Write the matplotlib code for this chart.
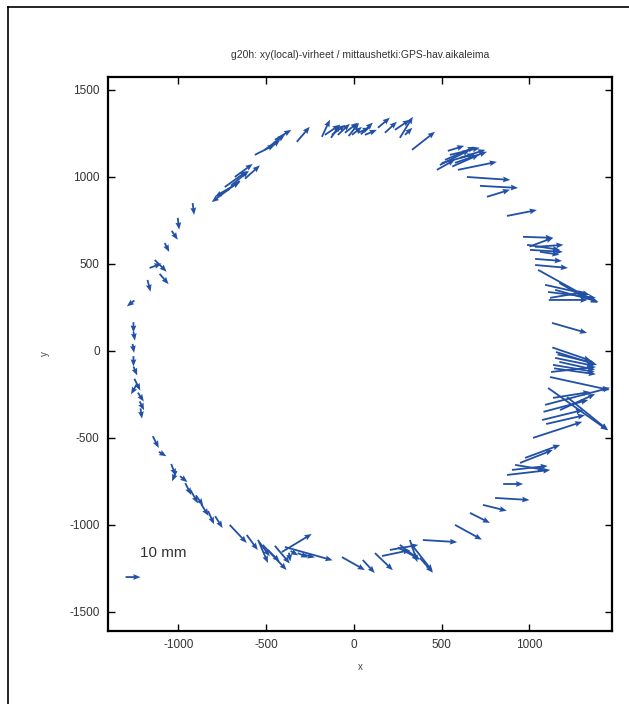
import matplotlib
matplotlib.use("Agg")
import matplotlib.pyplot as plt
from matplotlib.lines import Line2D
import numpy as np

plt.rcParams['font.family'] = ['Liberation Sans', 'DejaVu Sans']
plt.rcParams['axes.unicode_minus'] = False

# point positions (local xy) and xy errors in mm
px = [-1250, -1255, -1255, -1260, -1255, -1255, -1250, -1235, -1230, -1220, -1215,
      -1145, -1110, -1040, -1010, -990, -960, -930, -900, -870, -830, -790,
      -707, -610, -547, -519, -490, -410, -393, -360, -320, -290, -370,
      -68, 51, 120, 160, 205, 262, 319, 376, 393, 330,
      576, 661, 735, 804, 850,
      872, 900, 918, 946, 975,
      1020, 1072, 1089, 1106, 1117, 1134, 1174, 1214,
      1123, 1134, 1146, 1151, 1170,
      1128,
      1049, 1089, 1106, 1117, 1146, 1110, 1170,
      1032, 1032, 986, 1003, 1032, 1060, 963,
      872, 758, 718, 644, 593,
      490, 519, 547, 576, 535, 604, 473,
      331, 262, 234, 177, 137, 291,
      -182, -165, -125, -91, -51, -11, 23, 63,
      -325, -564, -507, -450, -479,
      -650, -707, -735, -678, -775,
      -918, -1003, -1037, -1077, -1134, -1163, -1106, -1175,
      1140, 1160, 1080, 1095, -130, -30, 40, 500, 560,
      -700, -620, -450, -540, 250, 1000, 1130]
py = [290, 165, 110, 40, -30, -90, -160, -190, -240, -290, -330,
      -490, -580, -650, -690, -720, -760, -800, -830, -880, -920, -950,
      -1000, -1058, -1087, -1115, -1144, -1156, -1127, -1150, -1162, -1170, -1160,
      -1185, -1202, -1162, -1179, -1144, -1115, -1087, -1190, -1087, -1115,
      -1000, -931, -885, -845, -765,
      -713, -684, -655, -644, -615,
      -500, -397, -310, -213, -150, -270, -340, -265,
      -121, -80, -40, -6, -63,
      161,
      466, 380, 339, 305, 351, 293, 391,
      494, 529, 610, 581, 598, 570, 656,
      776, 886, 949, 1000, 1041,
      1069, 1098, 1127, 1081, 1150, 1110, 1041,
      1156, 1225, 1271, 1254, 1283, 1242,
      1231, 1242, 1242, 1242, 1254, 1242, 1254, 1242,
      1202, 1127, 1156, 1213, 1167,
      977, 931, 942, 1000, 897,
      850, 765, 690, 620, 523, 477, 443, 408,
      -100, -20, -350, -420, 1225, 1235, 1245, 1080, 1060,
      950, 990, -1120, -1100, -1130, 600, 20]
dx = [-5, 0, 1, 1, 0, 2.5, 4, -4, 4, 3, 1,
      4, 5, 3, -3, 5, 4, 5, 5, 5, 4, 5,
      11.4, 7.4, 8, 16, 8, 20, 32, 5, 7, 8, 1,
      15.4, 8, 12, 19, 19, 13, 5, 8.7, 23, 14,
      18, 13.4, 16, 23, 13.4,
      29, 24, 20, 22, 23.5,
      33, 27.5, 43.5, 40, 40, 25, 23.5, 27.5,
      30, 28, 26, 27.5, 24,
      23.5,
      40, 30, 32, 23.5, 29, 26, 17,
      22, 18, 22, 22, 19, 13, 20,
      20, 15.4, 25.5, 29, 26,
      20, 20, 20, 21.4, 11, 17, 12,
      15.4, 8.7, 10, 8, 8, 5,
      5.4, 10, 9, 8, 8.7, 6.7, 8, 8,
      8.7, 13.4, 13.4, 11, 7,
      -18.8, -10, 15, 12, 15,
      1, 1, 4, 3, 8, 8, 6, 2,
      28, 25, 30, 26, 6, 7, 8, 22, 18,
      12, 10, 10, 6, 15, 16, 26]
dy = [-4, -7, -6, -6, -7, -6, -8, -7, -6, -6, -7,
      -8, -3, -8, -7, -4, -8, -9, -7, -8, -9, -8,
      -12.2, -10.2, -11, -17, -8, 12.2, -9, -3, -3, -2, -6,
      -8.8, -8.8, -11.6, 4, 3.4, -10, -15, -10, -1.4, -18,
      -10, -6.8, -4, -1.4, 0,
      3.4, 2.7, -3.4, 8.8, 8.8,
      10.9, 6.8, 11.6, -28.6, -8.8, 4, 10.9, -22.4,
      3.4, -4.8, -5.4, -8.8, -5.4,
      -6.8,
      -22.4, -6.8, -4, 4, -8, 0, -10,
      -2, -1.4, -3.4, -1.4, 1.4, -2, -0.7,
      4, 4.8, -1.4, -2, 5.4,
      10.2, 8.8, 4.8, 7.5, 3.4, 5.4, 6.8,
      12.2, 14.3, 6.8, 7.5, 6.8, 4.8,
      11.6, 6.8, 6.8, 7.5, 6.8, 5.4, 3.4, 3.4,
      10.2, 6.8, 10.2, 6.8, 5.4,
      -14.3, -5.4, 10.9, 8.8, 8.8,
      -8, -8, -6, -6, -8, 3, -7, -8,
      -4, -6, 8, 6, 9, 9, 8, 6, 8,
      10, 9, -12, -14, -8, 6, -9]

ref_x, ref_y, ref_len = -1300, -1300, 10  # 10 mm reference arrow
mm_per_unit = 1 / 8.5

fig = plt.figure(figsize=(6.29, 7.04), dpi=100)
ax = fig.add_axes([0.1717, 0.1037, 0.8013, 0.787])

arrow_kw = dict(angles='xy', scale_units='xy', scale=mm_per_unit, color='#2150a6',
                width=0.0036, headwidth=3.2, headlength=4.0, headaxislength=3.6)
ax.quiver(px, py, dx, dy, **arrow_kw)
ax.quiver([ref_x], [ref_y], [ref_len], [0], **arrow_kw)
ax.text(-1220, -1185, '10 mm', fontsize=11, color='#333333')

ax.set_xlim(-1400, 1470)
ax.set_ylim(-1610, 1575)
ax.set_xticks(np.arange(-1000, 1001, 500))
ax.set_yticks(np.arange(-1500, 1501, 500))
ax.tick_params(direction='in', top=True, right=True, length=5, width=1,
               labelsize=8.5, labelcolor='#333333', pad=6)
for s in ax.spines.values():
    s.set_linewidth(1.6)

ax.set_title('g20h: xy(local)-virheet / mittaushetki:GPS-hav.aikaleima',
             fontsize=7.5, pad=14, color='#333333')
ax.set_xlabel('x', fontsize=7, labelpad=8, color='#444444')
ax.set_ylabel('y', fontsize=7, labelpad=14, color='#444444')

# page frame
fig.add_artist(Line2D([0.0127, 0.0127], [0.0, 0.990], color='black', lw=1.2))
fig.add_artist(Line2D([0.0127, 1.0], [0.990, 0.990], color='black', lw=1.2))

fig.savefig('out.png', dpi=100, facecolor='white')
